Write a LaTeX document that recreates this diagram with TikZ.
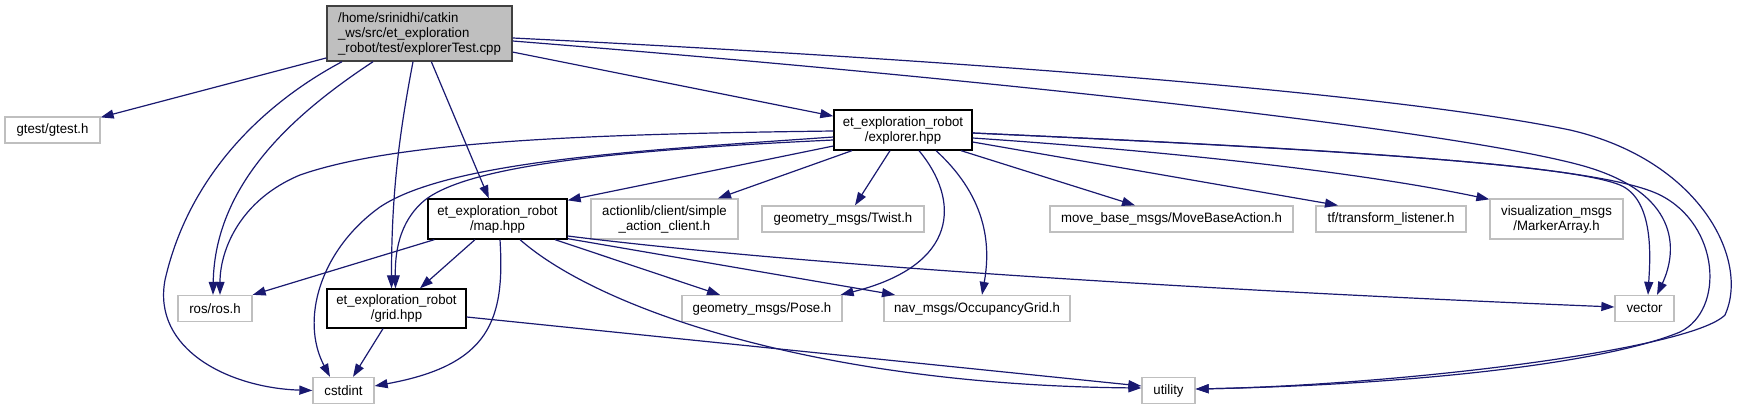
\documentclass[tikz,border=0pt]{standalone}
\usepackage{fontspec}
\setmainfont{Liberation Sans}[FakeStretch=0.97]
\usetikzlibrary{arrows.meta}
\definecolor{incblue}{RGB}{25,25,112}
\definecolor{incgray}{RGB}{191,191,191}
\definecolor{incdark}{RGB}{64,64,64}
\tikzset{
    rootfile/.style={rectangle, draw=incdark, fill=incgray, align=left, font=\fontsize{13.6}{15}\selectfont, inner xsep=8pt, inner ysep=2pt, minimum height=55pt, line width=1.4pt},
    projhdr/.style={rectangle, draw=black, fill=white, align=center, font=\fontsize{13.6}{15}\selectfont, inner sep=2pt, minimum height=40pt, line width=1.3pt},
    syshdr/.style={rectangle, draw=incgray, fill=white, align=center, font=\fontsize{13.6}{15}\selectfont, inner sep=2pt, minimum height=26pt, line width=1.3pt},
    dep/.style={-{Triangle[length=13pt, width=9pt]}, color=incblue, line width=1.2pt}
}

\begin{document}
\begin{tikzpicture}[x=1pt, y=-1pt]
    \useasboundingbox (0,0) rectangle (1739,409);
    \node[rootfile, minimum width=185pt] (root) at (419.5,33.5) {/home/srinidhi/catkin\\\_ws/src/et\_exploration\\\_robot/test/explorerTest.cpp};
    \node[syshdr, minimum width=95pt] (gtest) at (52.5,130) {gtest/gtest.h};
    \node[projhdr, minimum width=138pt] (explorer) at (903,130) {et\_exploration\_robot\\/explorer.hpp};
    \node[projhdr, minimum width=139pt] (map) at (497.5,219) {et\_exploration\_robot\\/map.hpp};
    \node[syshdr, minimum width=147pt, minimum height=40pt] (action) at (664.5,219) {actionlib/client/simple\\\_action\_client.h};
    \node[syshdr, minimum width=162pt] (twist) at (843,219) {geometry\_msgs/Twist.h};
    \node[syshdr, minimum width=243pt] (movebase) at (1171.5,219) {move\_base\_msgs/MoveBaseAction.h};
    \node[syshdr, minimum width=150pt] (tf) at (1391,219) {tf/transform\_listener.h};
    \node[syshdr, minimum width=133pt, minimum height=40pt] (vis) at (1556.5,219) {visualization\_msgs\\/MarkerArray.h};
    \node[syshdr, minimum width=74pt] (ros) at (215,308.5) {ros/ros.h};
    \node[projhdr, minimum width=139pt, minimum height=39pt] (grid) at (396.5,308.5) {et\_exploration\_robot\\/grid.hpp};
    \node[syshdr, minimum width=160pt] (pose) at (762,308.5) {geometry\_msgs/Pose.h};
    \node[syshdr, minimum width=186pt] (nav) at (977,308.5) {nav\_msgs/OccupancyGrid.h};
    \node[syshdr, minimum width=59pt] (vec) at (1644.5,308.5) {vector};
    \node[syshdr, minimum width=61pt] (cstd) at (343.5,390.5) {cstdint};
    \node[syshdr, minimum width=53pt] (util) at (1168.5,390.5) {utility};

    % explorerTest.cpp
    \draw[dep] (root) -- (gtest);
    \draw[dep] (root) -- (explorer);
    \draw[dep] (root) -- (map);
    \draw[dep] ([xshift=-6.5pt]root.south) .. controls (400,130) and (391.5,190) .. ([xshift=-5pt]grid.north);
    \draw[dep] ([xshift=-46.5pt]root.south) .. controls (300,110) and (215,180) .. ([xshift=-2pt]ros.north);
    \draw[dep] ([xshift=-77.5pt]root.south) .. controls (270,100) and (190,170) .. (165,280) .. controls (152,350) and (230,388) .. (cstd.west);
    \draw[dep] ([yshift=-7.5pt]root.east) .. controls (1000,80) and (1450,130) .. (1580,165) .. controls (1680,192) and (1678,250) .. ([xshift=12.5pt]vec.north);
    \draw[dep] ([yshift=-4.5pt]root.east) .. controls (1000,62) and (1400,95) .. (1570,130) .. controls (1700,160) and (1750,260) .. (1725,315) .. controls (1690,350) and (1400,385) .. ([yshift=1.5pt]util.east);

    % explorer.hpp
    \draw[dep] ([yshift=-1pt]explorer.west) .. controls (600,134) and (400,140) .. (300,175) .. controls (240,200) and (220,250) .. ([xshift=5pt]ros.north);
    \draw[dep] ([yshift=-7pt]explorer.west) .. controls (650,150) and (450,160) .. (380,207) .. controls (320,250) and (300,320) .. ([xshift=-13.5pt]cstd.north);
    \draw[dep] ([yshift=-10pt]explorer.west) .. controls (620,150) and (470,165) .. (425,200) .. controls (398,222) and (395,255) .. ([xshift=-1pt]grid.north);
    \draw[dep] ([yshift=-16pt]explorer.west) -- ([yshift=-2pt]map.north east);
    \draw[dep] ([xshift=-51pt]explorer.south) -- ([xshift=53.5pt]action.north);
    \draw[dep] ([xshift=-13pt]explorer.south) -- ([xshift=12pt]twist.north);
    \draw[dep] ([xshift=16pt]explorer.south) .. controls (960,200) and (960,265) .. ([xshift=-2pt]pose.north east);
    \draw[dep] ([xshift=33pt]explorer.south) .. controls (990,200) and (990,250) .. ([xshift=5pt]nav.north);
    \draw[dep] ([xshift=58pt]explorer.south) -- ([xshift=-36.5pt]movebase.north);
    \draw[dep] ([yshift=-12pt]explorer.east) -- ([xshift=-53pt]tf.north);
    \draw[dep] ([yshift=-8pt]explorer.east) .. controls (1150,150) and (1350,170) .. ([yshift=-1pt]vis.north west);
    \draw[dep] ([yshift=-3pt]explorer.east) .. controls (1350,150) and (1570,165) .. (1620,185) .. controls (1655,200) and (1650,260) .. ([xshift=3.5pt]vec.north);
    \draw[dep] ([yshift=-3pt]explorer.east) .. controls (1350,150) and (1600,165) .. (1660,195) .. controls (1720,225) and (1725,310) .. (1680,332) .. controls (1600,365) and (1400,385) .. ([yshift=1.5pt]util.east);

    % map.hpp
    \draw[dep] ([xshift=7pt]map.south west) -- (ros.north east);
    \draw[dep] ([xshift=-22.5pt]map.south) -- ([xshift=23.5pt]grid.north);
    \draw[dep] ([xshift=2.5pt]map.south) .. controls (505,320) and (490,365) .. ([yshift=4.5pt]cstd.east);
    \draw[dep] ([xshift=22.5pt]map.south) .. controls (600,310) and (820,385) .. ([yshift=2.5pt]util.west);
    \draw[dep] ([xshift=57.5pt]map.south) -- ([xshift=-42pt]pose.north);
    \draw[dep] ([yshift=1pt]map.south east) -- ([xshift=-82pt]nav.north);
    \draw[dep] ([yshift=-17pt]map.east) .. controls (800,265) and (1200,290) .. ([yshift=1.5pt]vec.west);

    % grid.hpp
    \draw[dep] ([xshift=-13.5pt]grid.south) -- ([xshift=9.5pt]cstd.north);
    \draw[dep] ([yshift=-8.5pt]grid.east) -- ([yshift=4.5pt]util.west);
\end{tikzpicture}
\end{document}
